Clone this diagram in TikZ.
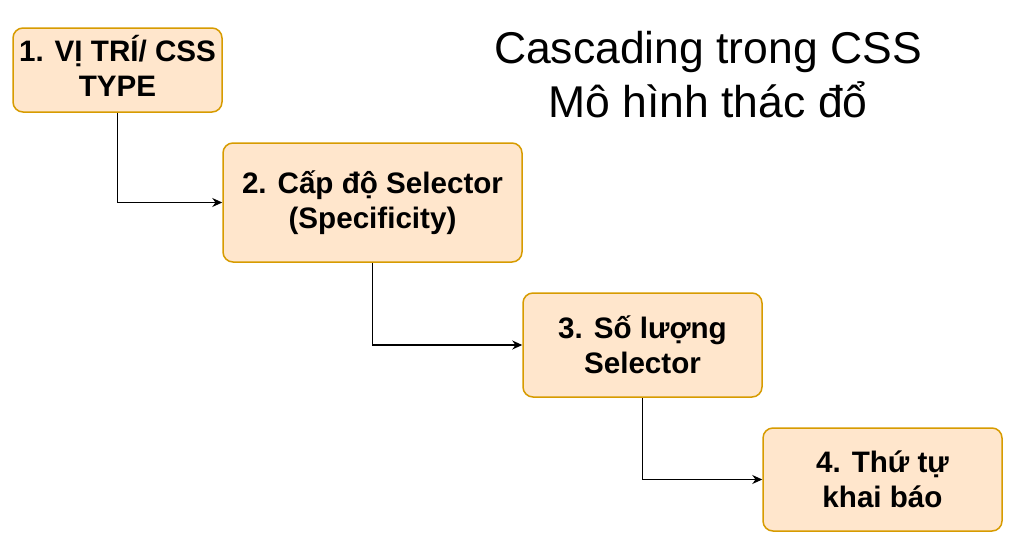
\documentclass[tikz,border=0pt]{standalone}
\usepackage{fontspec}
\setmainfont{Liberation Sans}
\usepackage{xcolor}
\usetikzlibrary{arrows.meta,positioning}
\definecolor{boxfill}{HTML}{FFE6CC}
\definecolor{boxline}{HTML}{D79B00}

\begin{document}
\begin{tikzpicture}[x=1pt,y=-1pt,
		s/.style={rounded corners=10pt,draw=boxline,line width=1.5pt,fill=boxfill,
				align=center,inner xsep=0pt,font=\fontsize{29.6}{35}\selectfont\bfseries},
		a/.style={-{Stealth[length=10pt,width=9pt]},draw=black,line width=1.2pt}
		]
		\useasboundingbox (0,0) rectangle (1019,546);
		\node[s,minimum width=209pt,minimum height=84pt] (t) at (117.5,70) {};
		\node[align=center,font=\fontsize{29.6}{35}\selectfont\bfseries] (ttext) at ([yshift=4pt]t.center) {1. VỊ TRÍ/ CSS\\TYPE};
		\node[s,minimum width=299pt,minimum height=119pt] (c) at (372.5,202.5) {2. Cấp độ Selector\\(Specificity)};
		\node[s,minimum width=239pt,minimum height=104pt] (n) at (642.5,345) {3. Số lượng\\Selector};
		\node[s,minimum width=239pt,minimum height=103pt] (o) at (882.5,479.5) {4. Thứ tự\\khai báo};
		\node[align=center,font=\fontsize{44.5}{54}\selectfont] (title) at (708,75) {Cascading trong CSS\\Mô hình thác đổ};
		\draw[a] (t.south) |- (c.west);
		\draw[a] (c.south) |- (n.west);
		\draw[a] (n.south) |- (o.west);
	\end{tikzpicture}
\end{document}
